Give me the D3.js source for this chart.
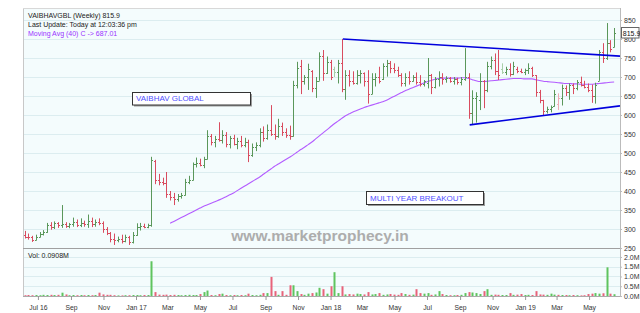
<!DOCTYPE html>
<html><head><meta charset="utf-8">
<script src="https://cdn.jsdelivr.net/npm/d3@7"></script>
<style>body{margin:0;background:#fff}svg{display:block;font-family:"Liberation Sans",Arial,sans-serif}</style>
</head><body><svg id="c" width="640" height="313"></svg>
<script>
// ---------------- DATA ----------------
const symbol = "VAIBHAVGBL";
const firstWeek = "2016-06-06";
const open = [285,280,278,272,280,288,292,310,305,315,310,312,308,312,318,310,316,312,320,312,318,315,300,290,275,270,275,268,278,265,285,305,308,306,310,478,430,425,420,392,385,378,388,390,425,430,470,475,468,485,545,530,538,535,548,525,540,525,532,522,530,495,515,520,555,540,560,550,545,570,555,548,545,680,728,690,700,715,670,690,755,710,740,720,712,738,668,705,690,685,705,710,690,655,695,700,695,728,738,725,718,705,685,700,690,700,688,682,685,705,675,695,700,695,698,690,695,688,695,700,605,645,640,690,665,730,745,715,720,712,720,708,722,715,712,718,725,705,660,640,610,615,625,630,645,670,660,678,670,688,680,675,665,650,690,765,750,790,780];
const high = [295,288,282,285,292,297,316,318,320,318,363,318,316,330,325,328,322,338,330,325,328,320,305,292,288,280,285,285,282,292,315,316,314,314,490,482,445,435,450,400,395,392,395,432,440,475,488,485,490,560,550,545,581,560,555,545,548,540,545,540,535,525,528,565,570,575,626,575,590,580,565,572,690,740,745,705,735,718,700,765,771,754,745,727,745,800,718,718,715,718,718,712,718,710,710,727,736,745,742,736,727,710,710,715,705,712,705,692,750,708,700,715,710,702,700,700,698,700,776,710,665,660,710,692,740,754,762,771,736,727,736,740,727,722,722,736,727,705,666,640,622,625,666,657,680,678,683,683,692,701,690,683,680,685,771,789,842,797,829];
const low = [275,272,266,270,278,283,290,298,300,303,303,303,302,306,305,305,306,303,305,306,310,290,284,265,258,265,262,265,258,262,282,296,302,302,306,418,415,415,382,375,363,372,380,388,418,428,462,465,460,483,520,515,530,525,515,512,520,510,515,515,476,490,505,515,530,535,545,535,540,545,540,535,543,670,655,680,666,660,645,690,690,708,692,700,683,660,640,675,680,680,683,675,630,655,675,683,692,701,710,710,700,675,675,680,688,680,675,675,670,655,670,675,680,685,685,680,680,678,690,590,574,580,613,618,660,720,705,692,708,705,701,705,710,710,705,708,700,648,631,600,604,607,622,613,625,650,640,655,665,675,670,660,632,630,690,737,745,765,778];
const close = [280,278,272,280,288,292,310,305,315,310,312,308,312,318,310,316,312,320,312,318,315,300,290,275,270,275,268,278,265,285,305,308,306,310,482,430,425,420,392,385,378,388,390,425,430,470,475,468,485,545,530,538,535,548,525,540,525,532,522,530,495,515,520,555,540,560,550,545,570,555,548,545,680,725,690,700,720,670,690,755,710,740,700,712,738,668,705,690,685,705,710,690,655,695,700,690,728,738,725,718,705,685,700,690,700,688,682,690,705,675,695,700,695,698,690,695,688,695,700,605,645,650,690,665,730,745,715,705,712,720,708,730,715,712,718,725,705,660,640,610,615,620,655,645,670,660,678,670,688,680,675,665,650,680,765,750,790,775,815.9];
const volume = [0.04,0.05,0.04,0.05,0.04,0.06,0.05,0.06,0.05,0.06,0.17,0.08,0.04,0.05,0.04,0.05,0.04,0.05,0.04,0.05,0.17,0.08,0.06,0.06,0.04,0.03,0.03,0.04,0.04,0.05,0.05,0.04,0.05,0.05,1.78,0.2,0.07,0.06,0.07,0.05,0.06,0.05,0.04,0.05,0.06,0.05,0.05,0.1,0.2,0.28,0.05,0.04,0.1,0.12,0.05,0.04,0.05,0.04,0.05,0.04,0.12,0.05,0.04,0.06,0.15,0.15,0.98,0.25,0.06,0.25,0.06,0.55,0.55,0.25,0.1,0.06,0.12,0.15,0.18,0.42,0.35,0.12,0.5,1.22,0.15,0.5,0.08,0.1,0.08,0.12,0.1,0.08,0.2,0.08,0.1,0.15,0.06,0.08,0.1,0.07,0.06,0.15,0.1,0.06,0.07,0.35,0.15,0.12,0.15,0.06,0.08,0.25,0.1,0.05,0.04,0.04,0.05,0.06,0.15,0.2,0.18,0.15,0.1,0.25,0.35,0.06,0.07,0.06,0.05,0.05,0.15,0.06,0.07,0.1,0.05,0.06,0.05,0.25,0.08,0.07,0.06,0.12,0.07,0.06,0.05,0.05,0.04,0.05,0.04,0.03,0.04,0.1,0.12,0.15,0.12,0.14,1.47,0.12,0.0908];
const ma40 = [null,null,null,null,null,null,null,null,null,null,null,null,null,null,null,null,null,null,null,null,null,null,null,null,null,null,null,null,null,null,null,null,null,null,null,null,null,null,null,
315,320,325,330,335,340,345,350,355,360,364,368,372,376,380,385,390,395,401,407,413,419,425,431,437,444,451,458,465,471,477,483,489,495,502,509,515,522,529,537,545,553,561,569,577,584,591,598,603,608,612,616,620,623,626,629,632,635,639,644,649,654,659,664,668,672,676,680,684,688,691,694,696,697,697,697,697,697,698,698,696,693,690,688,688,689,690,691,692,693,694,695,696,696,696,695,695,695,693,691,689,688,687,686,685,684,683,683,682,682,681,681,681,681,682,683,684,685,686,687.01];
const upperTrend = [["2018-01-24", 800], ["2019-06-28", 755]];
const lowerTrend = [["2018-09-19", 574], ["2019-06-28", 624]];
const priceTicks = [250,300,350,400,450,500,550,600,650,700,750,800,850];
const volTicks = [0,0.5,1,1.5,2];
const volTickLabels = ["0.0M","0.5M","1.0M","1.5M","2.0M"];
const xTickDates = ["2016-07-01","2016-09-01","2016-11-01","2017-01-01","2017-03-01","2017-05-01","2017-07-01","2017-09-01","2017-11-01","2018-01-01","2018-03-01","2018-05-01","2018-07-01","2018-09-01","2018-11-01","2019-01-01","2019-03-01","2019-05-01"];
const xTickLabels = ["Jul 16","Sep","Nov","Jan 17","Mar","May","Jul","Sep","Nov","Jan 18","Mar","May","Jul","Sep","Nov","Jan 19","Mar","May"];
const headerLines = ["VAIBHAVGBL (Weekly) 815.9","Last Update: Today at 12:03:36 pm","Moving Avg (40) C -> 687.01"];
const lastPrice = "815.9";
const volLabel = "Vol: 0.0908M";
const notes = ["VAIBHAV GLOBAL","MULTI YEAR BREAKOUT"];
const watermark = "www.marketprophecy.in";

// ---------------- LAYOUT ----------------
const parse = d3.utcParse("%Y-%m-%d");
const t0 = parse(firstWeek);
const data = close.map((c,i)=>({date:d3.utcDay.offset(t0, 7*i), o:open[i], h:high[i], l:low[i], c, v:volume[i], ma:ma40[i]}));

const L=23, R=620, T=8, PB=248, VB=296;
const svg = d3.select("#c");
const x = d3.scaleUtc().domain([parse("2016-06-03"), parse("2019-06-28")]).range([L,R]);
const y = d3.scaleLinear().domain([250, 881.6]).range([PB, T]);
const yv = d3.scaleLinear().domain([0, 2.46]).range([VB, PB]);

svg.append("rect").attr("width",640).attr("height",313).attr("fill","#fff");
svg.append("rect").attr("x",L).attr("y",T).attr("width",R-L).attr("height",VB-T).attr("fill","#f4fcfd");

// grids
svg.append("g").selectAll("line").data(priceTicks.slice(1)).join("line")
  .attr("x1",L).attr("x2",R).attr("y1",d=>Math.round(y(d))+0.5).attr("y2",d=>Math.round(y(d))+0.5)
  .attr("stroke","#dcedf0");
svg.append("g").selectAll("line").data(volTicks.slice(1)).join("line")
  .attr("x1",L).attr("x2",R).attr("y1",d=>Math.round(yv(d))+0.5).attr("y2",d=>Math.round(yv(d))+0.5)
  .attr("stroke","#dcedf0");

// borders
svg.append("line").attr("x1",L+0.5).attr("x2",L+0.5).attr("y1",T).attr("y2",VB).attr("stroke","#c8c8c8");
svg.append("line").attr("x1",L).attr("x2",R).attr("y1",T+0.5).attr("y2",T+0.5).attr("stroke","#d8d8d8");
svg.append("line").attr("x1",L).attr("x2",R).attr("y1",PB+0.5).attr("y2",PB+0.5).attr("stroke","#a0a0a0");

svg.append("defs").append("clipPath").attr("id","pc").append("rect").attr("x",L).attr("y",T).attr("width",R-L).attr("height",PB-T);

// watermark
svg.append("text").attr("x",320).attr("y",241).attr("text-anchor","middle")
  .attr("font-size",15.5).attr("font-weight","bold").attr("fill","#adadad").text(watermark);

// header
headerLines.forEach((s,i)=>svg.append("text").attr("x",28).attr("y",17.5+i*9.3).attr("font-size",7)
  .attr("fill", i==2 ? "#9933ff" : "#222").text(s));

// annotation boxes
function note(text, bx, by, bw, bh){
  svg.append("rect").attr("x",bx+2).attr("y",by+2).attr("width",bw).attr("height",bh).attr("fill","#9a9a9a");
  svg.append("rect").attr("x",bx+0.5).attr("y",by+0.5).attr("width",bw).attr("height",bh).attr("fill","#fff").attr("stroke","#333");
  svg.append("text").attr("x",bx+4).attr("y",by+bh-3.5).attr("font-size",8).attr("fill","#5050ff").text(text);
}
note(notes[0],132,92,118,12.5);
note(notes[1],366,191,117,13);

// moving average
const pg = svg.append("g").attr("clip-path","url(#pc)");
pg.append("path").datum(data).attr("fill","none").attr("stroke","#b35cff").attr("stroke-width",1.1)
  .attr("d", d3.line().defined(d=>d.ma!=null).x(d=>x(d.date)).y(d=>y(d.ma)).curve(d3.curveMonotoneX));

// OHLC bars
const upDark="#5a975a", upLight="#a9cfa9", dnDark="#d94c5f", dnLight="#f0aab4";
data.forEach((d,i)=>{
  const prev = i>0 ? data[i-1].c : d.o;
  const up = d.c >= prev;
  const light = (d.c >= d.o) !== up;
  d.col = up ? (light?upLight:upDark) : (light?dnLight:dnDark);
  d.vcol = up ? "#5fc45f" : "#e8637a";
});
const bars = pg.append("g").selectAll("g").data(data).join("g").attr("stroke",d=>d.col).attr("stroke-width",1);
const bx = d=>Math.round(x(d.date))+0.5;
bars.append("line").attr("x1",bx).attr("x2",bx).attr("y1",d=>y(d.h)).attr("y2",d=>y(d.l));
bars.append("line").attr("x1",d=>bx(d)-1.5).attr("x2",d=>bx(d)).attr("y1",d=>Math.round(y(d.o))+0.5).attr("y2",d=>Math.round(y(d.o))+0.5);
bars.append("line").attr("x1",d=>bx(d)).attr("x2",d=>bx(d)+1.5).attr("y1",d=>Math.round(y(d.c))+0.5).attr("y2",d=>Math.round(y(d.c))+0.5);

// trendlines
[upperTrend, lowerTrend].forEach(tl=>{
  pg.append("line").attr("x1",x(parse(tl[0][0]))).attr("y1",y(tl[0][1]))
    .attr("x2",x(parse(tl[1][0]))).attr("y2",y(tl[1][1])).attr("stroke","#0000dd").attr("stroke-width",1.6);
});

// volume bars
svg.append("g").selectAll("rect").data(data).join("rect")
  .attr("x",d=>Math.round(x(d.date))-0.5).attr("width",2)
  .attr("y",d=>yv(d.v)).attr("height",d=>VB-yv(d.v)).attr("fill",d=>d.vcol);
svg.append("text").attr("x",28).attr("y",258).attr("font-size",7).attr("fill","#222").text(volLabel);

// right axes
const ra = svg.append("g").attr("transform",`translate(${R},0)`)
  .call(d3.axisRight(y).tickValues(priceTicks).tickSize(2).tickPadding(2).tickFormat(d3.format("d")));
const rv = svg.append("g").attr("transform",`translate(${R},0)`)
  .call(d3.axisRight(yv).tickValues(volTicks).tickSize(2).tickPadding(2).tickFormat((d,i)=>volTickLabels[i]));
[ra,rv].forEach(g=>{
  g.select(".domain").attr("stroke","#bbb");
  g.selectAll(".tick line").attr("stroke","#bbb");
  g.selectAll("text").attr("font-size",7).attr("fill","#333").attr("font-family","Liberation Sans, Arial, sans-serif");
});
ra.select(".domain").attr("d",`M0.5,${T}V${PB}`);
rv.select(".domain").attr("d",`M0.5,${PB}V${VB}`);

// bottom axis
const ba = svg.append("g").attr("transform",`translate(0,${VB})`)
  .call(d3.axisBottom(x).tickValues(xTickDates.map(parse)).tickSize(4).tickPadding(5).tickFormat((d,i)=>xTickLabels[i]));
ba.select(".domain").attr("stroke","#aaa").attr("d",`M${L},0.5H${R}`);
ba.selectAll(".tick line").attr("stroke","#999");
ba.selectAll("text").attr("font-size",6.8).attr("fill","#333").attr("font-family","Liberation Sans, Arial, sans-serif");

// last price label
svg.append("rect").attr("x",621.5).attr("y",27.5).attr("width",17.5).attr("height",10.5).attr("fill","#fff").attr("stroke","#666");
svg.append("text").attr("x",622.8).attr("y",35.6).attr("font-size",7).attr("fill","#111").text(lastPrice);
</script></body></html>
